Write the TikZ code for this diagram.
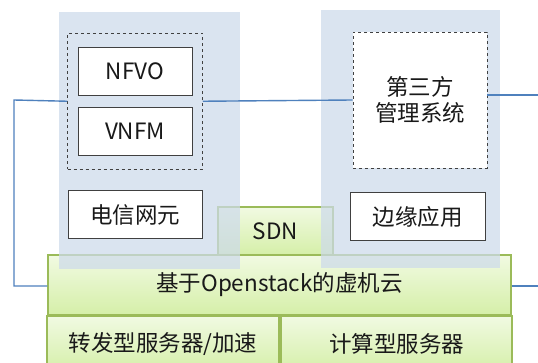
\documentclass[tikz,border=0pt]{standalone}
\usepackage{fontspec}
\setmainfont{Noto Sans CJK SC}
\usetikzlibrary{positioning}
\usetikzlibrary{fit}
\definecolor{gborder}{RGB}{155,187,89}
\definecolor{gtop}{RGB}{241,250,226}
\definecolor{gbot}{RGB}{213,239,168}
\definecolor{colfill}{RGB}{205,218,235}
\definecolor{lnblue}{RGB}{79,129,189}
\definecolor{txt}{RGB}{25,25,25}
\tikzstyle{G} = [rectangle,draw=gborder,line width=1.3pt,top color=gtop,bottom color=gbot,inner sep=0pt]
\tikzstyle{C} = [rectangle,fill=colfill,fill opacity=0.72,draw=none,inner sep=0pt]
\tikzstyle{W} = [rectangle,draw=black!75,fill=white,line width=0.8pt,minimum width=114pt,minimum height=48pt,inner sep=0pt]
\tikzstyle{D} = [rectangle,draw=black!75,dashed,line width=0.7pt]
\tikzstyle{L} = [draw=lnblue,line width=1.4pt]

\begin{document}
\begin{tikzpicture}[x=1pt,y=-1pt,font=\fontsize{22.5}{26}\selectfont,text=txt]
	\clip (0,0) rectangle (538,363);
	\fill [white] (0,0) rectangle (538,363);
	
	% green layers
	\node [G,minimum width=232pt,minimum height=56pt] (fwd) at(163,344) {};
	\node [G,minimum width=231pt,minimum height=56pt] (cmp) at(396.5,344) {};
	\node [G,minimum width=115pt,minimum height=48pt] (sdn) at(275.5,231) {};
	\node [G,minimum width=463pt,minimum height=60pt] (cloud) at(279.5,285) {};
	\node at (sdn) {SDN};
	\node at (cloud) {基于Openstack的虚机云};
	\node at (fwd) {转发型服务器/加速};
	\node at (cmp) {计算型服务器};
	%%%%%%%%%%%%%%%
	\node [C,minimum width=181pt,minimum height=257pt] (c1) at(149.5,140.5) {};
	\node [C,minimum width=179pt,minimum height=258pt] (c2) at(410.5,139) {};
	%%%%%%%%%%%%%%%
	\node [W] (nfvo) at(135,71.5) {NFVO};
	\node [W] (vnfm) at(135,131) {VNFM};
	\node [D,inner xsep=10pt,inner ysep=14pt,fit=(nfvo) (vnfm)] (d1) {};
	\node [W,minimum width=134pt] (ne) at(135,214.5) {电信网元};
	%----
	\node [D,fill=white,minimum width=134pt,minimum height=136pt,align=center] (d2) at(420,100) {第三方\\管理系统};
	\node [W,minimum width=135pt] (edge) at(417.5,216.5) {边缘应用};
	%%%%%%%%%%%%%%%
	\coordinate (lt) at (14,100);
	\coordinate (lb) at (14,286);
	\coordinate (rt) at (545,95);
	\coordinate (rb) at (545,286);
	\draw [L] (d1.west) -- (lt) -- (lb) -- (cloud.west |- lb);
	\draw [L] (d1.east) -- (d2.west);
	\draw [L] (d2.east |- rt) -- (rt);
	\draw [L] (cloud.east |- rb) -- (rb);
	
\end{tikzpicture}
\end{document}
